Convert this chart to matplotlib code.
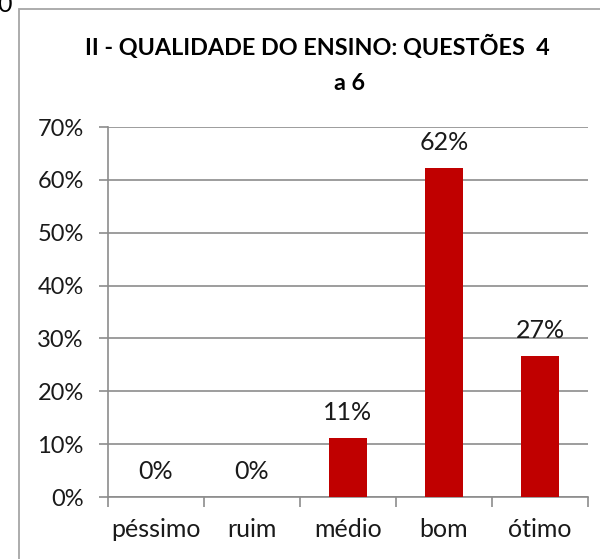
import matplotlib
matplotlib.use("Agg")
from matplotlib import pyplot as plt
from matplotlib.patches import Rectangle
from matplotlib.ticker import FuncFormatter, FixedLocator

categories = ["péssimo", "ruim", "médio", "bom", "ótimo"]
values = [0.0, 0.0, 0.111, 0.622, 0.267]
labels = ["0%", "0%", "11%", "62%", "27%"]
yticks = [0.0, 0.1, 0.2, 0.3, 0.4, 0.5, 0.6, 0.7]

plt.rcParams["font.family"] = ["Lato", "DejaVu Sans"]
grey = "#8c8c8c"

fig = plt.figure(figsize=(6.0, 5.59), dpi=100)
ax = fig.add_axes([108/600, 62/559, 480/600, 370/559])

x = list(range(len(categories)))
ax.bar(x, values, width=0.4, color="#c00000", zorder=3)
for xi, v, lab in zip(x, values, labels):
    ax.annotate(lab, (xi, v), xytext=(0, 10), textcoords="offset points",
                ha="center", va="bottom", fontsize=18, color="#1a1a1a")

ax.set_xlim(-0.5, len(categories) - 0.5)
ax.set_ylim(0, 0.7)
ax.set_yticks(yticks)
ax.yaxis.set_major_formatter(FuncFormatter(lambda v, p: "%d%%" % round(v * 100)))
ax.grid(axis="y", color=grey, lw=1.2, zorder=0)

ax.set_xticks(x)
ax.set_xticklabels(categories, fontsize=18)
ax.xaxis.set_minor_locator(FixedLocator([i - 0.5 for i in range(len(categories) + 1)]))
ax.tick_params(axis="x", which="major", length=0, pad=15)
ax.tick_params(axis="x", which="minor", length=7, color=grey, width=1.2)
ax.tick_params(axis="y", length=6.5, color=grey, width=1.2, labelsize=17, pad=11,
               labelcolor="#1a1a1a")
ax.tick_params(axis="x", labelcolor="#1a1a1a")

for s in ["top", "right"]:
    ax.spines[s].set_visible(False)
for s in ["left", "bottom"]:
    ax.spines[s].set_color(grey)
    ax.spines[s].set_linewidth(1.2)

fig.text(317/600, 1 - 47/559, "II - QUALIDADE DO ENSINO: QUESTÕES  4",
         ha="center", va="center", fontsize=16.8, fontweight="bold")
fig.text(350/600, 1 - 84/559, "a 6",
         ha="center", va="center", fontsize=16.8, fontweight="bold")

fig.patches.append(Rectangle((19/600, -0.05), 1.1, 1 - 9/559 + 0.05,
                             transform=fig.transFigure, fill=False,
                             edgecolor="#a6a6a6", lw=1.3))
fig.text(5/600, 1 - 12/559, "0", ha="center", va="baseline", fontsize=18)

fig.savefig("out.png", dpi=100)
